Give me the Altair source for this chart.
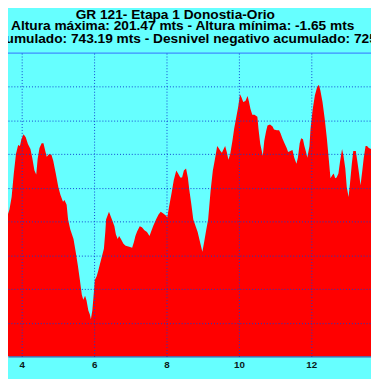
import altair as alt
import pandas as pd

# Elevation profile (distance in km, elevation in m)
dist_km = [3.41, 3.49, 3.59, 3.66, 3.72, 3.78, 3.84, 3.90, 3.95, 3.99,
           4.05, 4.11, 4.17, 4.24, 4.29, 4.35, 4.40, 4.44, 4.49, 4.55,
           4.60, 4.65, 4.69, 4.76, 4.82, 4.87, 4.94, 5.01, 5.07, 5.14,
           5.18, 5.24, 5.28, 5.34, 5.43, 5.49, 5.55, 5.61, 5.66, 5.70,
           5.75, 5.79, 5.84, 5.88, 5.91, 5.95, 5.98, 6.02, 6.07, 6.11,
           6.15, 6.20, 6.27, 6.31, 6.33, 6.41, 6.47, 6.51, 6.56, 6.60,
           6.65, 6.69, 6.74, 6.81, 6.87, 6.97, 7.05, 7.10, 7.14, 7.19,
           7.26, 7.32, 7.39, 7.46, 7.53, 7.57, 7.64, 7.71, 7.78, 7.84,
           7.91, 7.98, 8.02, 8.07, 8.14, 8.20, 8.27, 8.32, 8.38, 8.43,
           8.48, 8.54, 8.59, 8.63, 8.68, 8.74, 8.86, 8.95, 8.99, 9.04,
           9.10, 9.15, 9.22, 9.28, 9.33, 9.40, 9.44, 9.49, 9.53, 9.58,
           9.62, 9.67, 9.71, 9.76, 9.82, 9.87, 9.94, 9.98, 10.03, 10.07,
           10.12, 10.18, 10.24, 10.28, 10.32, 10.37, 10.43, 10.51, 10.54, 10.59,
           10.66, 10.70, 10.75, 10.79, 10.86, 10.93, 10.97, 11.05, 11.11, 11.15,
           11.20, 11.26, 11.32, 11.36, 11.42, 11.48, 11.53, 11.59, 11.63, 11.68,
           11.72, 11.77, 11.81, 11.86, 11.89, 11.95, 11.98, 12.04, 12.10, 12.16,
           12.21, 12.25, 12.31, 12.37, 12.43, 12.48, 12.53, 12.58, 12.62, 12.66,
           12.70, 12.75, 12.79, 12.85, 12.89, 12.94, 12.98, 13.03, 13.07, 13.12,
           13.16, 13.23, 13.27, 13.32, 13.36, 13.41, 13.45, 13.50, 13.54, 13.59,
           13.65]

elev_m = [92.9, 101.6, 103.1, 108.9, 118.3, 135.7, 150.2, 156.8, 156.0, 161.1,
          164.8, 162.6, 157.5, 153.9, 147.3, 137.9, 135.0, 146.6, 154.6, 158.2,
          158.2, 152.4, 148.1, 150.2, 149.5, 145.2, 135.7, 125.6, 119.8, 114.7,
          116.1, 112.5, 101.6, 94.4, 87.1, 77.7, 67.5, 55.9, 45.7, 42.1,
          45.0, 41.4, 34.1, 31.2, 27.6, 34.1, 43.5, 56.6, 59.5, 63.1,
          67.5, 72.6, 79.8, 92.9, 101.6, 107.4, 103.1, 100.2, 96.5, 90.7,
          87.1, 89.3, 87.1, 83.5, 82.0, 81.3, 80.6, 84.9, 89.3, 92.9,
          96.5, 95.8, 93.6, 92.2, 89.3, 92.2, 97.3, 101.6, 105.2, 107.4,
          106.0, 104.5, 103.1, 111.0, 121.2, 130.6, 137.9, 135.7, 132.8, 132.8,
          137.9, 139.4, 132.8, 123.4, 113.9, 101.6, 92.2, 82.0, 77.7, 84.9,
          94.4, 101.6, 123.4, 137.9, 145.2, 156.0, 154.6, 152.4, 151.0, 153.9,
          156.0, 151.0, 145.9, 150.2, 159.7, 169.1, 179.3, 185.1, 194.5, 192.3,
          188.7, 189.4, 193.1, 188.7, 183.6, 179.3, 179.3, 177.8, 169.1, 157.5,
          148.8, 159.7, 166.9, 171.3, 172.0, 170.6, 168.4, 167.7, 167.7, 165.5,
          161.9, 158.2, 154.6, 151.7, 152.4, 153.1, 147.3, 143.0, 147.3, 158.2,
          161.9, 161.1, 156.0, 151.0, 147.3, 156.0, 169.1, 183.6, 193.8, 199.6,
          201.47, 197.4, 188.7, 176.4, 161.9, 147.3, 132.1, 134.3, 135.7, 132.1,
          132.8, 135.7, 143.7, 153.9, 148.8, 139.4, 125.6, 118.3, 128.5, 143.0,
          152.4, 152.4, 145.2, 135.7, 127.0, 137.9, 147.3, 156.0, 156.0, 154.6,
          153.9]

title_lines = [
    "GR 121- Etapa 1 Donostia-Orio",
    "mts - Altura máxima: 201.47 mts - Altura mínima: -1.65 mts",
    "Desnivel positivo acumulado: 743.19 mts - Desnivel negativo acumulado: 725.54 mts",
]
x_ticks = [4, 6, 8, 10, 12]
y_grid = [25, 50, 75, 100, 125, 150, 175, 200]
x_domain = [3.62, 13.65]
y_domain = [0, 225]

df = pd.DataFrame({"dist": dist_km, "elev": elev_m})

FONT = "Liberation Sans"
GRID = "#1040d0"
TSIZE = 14

x_scale = alt.Scale(domain=x_domain, nice=False, zero=False)
y_scale = alt.Scale(domain=y_domain, nice=False, zero=False)

area = alt.Chart(df).mark_area(color="#ff0000", clip=True, interpolate="linear").encode(
    x=alt.X("dist:Q", scale=x_scale,
            axis=alt.Axis(values=x_ticks, title=None, grid=True, gridColor=GRID,
                          gridDash=[1, 2], gridWidth=1, ticks=False,
                          labelFont=FONT, labelFontWeight="bold", labelFontSize=10,
                          labelColor="#0a1a1a", labelPadding=3,
                          domain=True, domainColor="#3a2a90", domainWidth=1,
                          zindex=1)),
    y=alt.Y("elev:Q", scale=y_scale,
            axis=alt.Axis(values=y_grid, title=None, grid=True, gridColor=GRID,
                          gridDash=[1, 2], gridWidth=1, ticks=False, labels=False,
                          domain=False, zindex=1)),
)

top_line = alt.Chart(pd.DataFrame({"k": [0]})).mark_rule(color="#3f8cff", strokeWidth=1.2).encode(
    y=alt.value(0)
)

def text_layer(txt, xpos, ypos, align):
    return alt.Chart(pd.DataFrame({"t": [txt]})).mark_text(
        font=FONT, fontWeight="bold", fontSize=TSIZE, color="#000000",
        align=align, baseline="alphabetic"
    ).encode(text="t:N", x=alt.value(xpos), y=alt.value(ypos))

t1 = text_layer(title_lines[0], 171, -35, "center")
t2 = text_layer(title_lines[1], 354, -23.3, "right")
t3 = text_layer(title_lines[2], -137, -10.7, "left")

chart = alt.layer(area, top_line, t1, t2, t3).properties(
    width=371, height=310,
    padding={"left": 0, "top": 42, "right": 0, "bottom": 19},
    autosize=alt.AutoSizeParams(type="none"),
    background="#66ffff",
).configure_view(strokeWidth=0)

chart.save("out.html", embed_options={"renderer": "svg", "actions": False})
